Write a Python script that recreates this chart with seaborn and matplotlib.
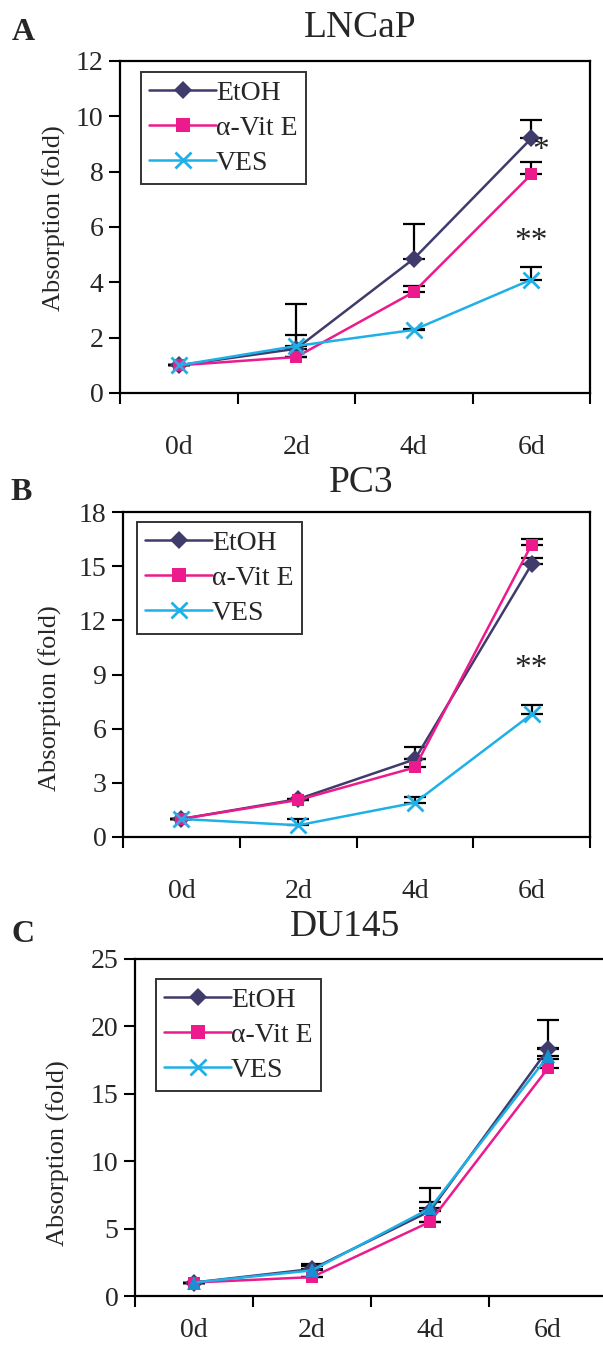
import numpy as np
import pandas as pd
import seaborn as sns
import matplotlib.pyplot as plt
from matplotlib.lines import Line2D
from matplotlib.ticker import FixedLocator, MultipleLocator

days = ["0d", "2d", "4d", "6d"]
treatments = ["EtOH", "α-Vit E", "VES"]

# mean values and upper error bars
lncap_mean = {"EtOH": [1.0, 1.6, 4.85, 9.2],
              "α-Vit E": [1.0, 1.3, 3.65, 7.9],
              "VES": [1.0, 1.7, 2.28, 4.1]}
lncap_err = {"EtOH": [0.0, 1.6, 1.25, 0.65],
             "α-Vit E": [0.0, 0.0, 0.2, 0.45],
             "VES": [0.0, 0.4, 0.02, 0.45]}

pc3_mean = {"EtOH": [1.0, 2.1, 4.3, 15.1],
            "α-Vit E": [1.0, 2.05, 3.85, 16.2],
            "VES": [1.0, 0.65, 1.9, 6.8]}
pc3_err = {"EtOH": [0.0, 0.0, 0.7, 0.35],
           "α-Vit E": [0.0, 0.0, 0.45, 0.3],
           "VES": [0.0, 0.35, 0.3, 0.5]}

du145_mean = {"EtOH": [1.0, 2.0, 6.3, 18.3],
              "α-Vit E": [1.0, 1.4, 5.5, 16.9],
              "VES": [1.0, 1.9, 6.5, 17.8]}
du145_err = {"EtOH": [0.0, 0.35, 1.7, 2.2],
             "α-Vit E": [0.0, 0.0, 0.0, 0.7],
             "VES": [0.0, 0.3, 0.5, 0.6]}

colors = {"EtOH": "#3f3b6b", "α-Vit E": "#ec1a8c", "VES": "#1eb0e6"}
tri_color = "#1a8fd2"

sns.set_theme(style="white")
plt.rcParams["font.family"] = ["Liberation Serif", "DejaVu Serif"]

W, H = 603, 1347
fig = plt.figure(figsize=(W / 100, H / 100), dpi=100)


def fx(px):
    return px / W


def fy(py):
    return 1 - py / H


def panel(rect, mean, err, ymax, ystep, title, letter, title_xy, letter_xy,
          ylab_xy, legend_xy, ves_marker="x", stars=(), xpad=30):
    left, top, right, bottom = rect
    ax = fig.add_axes([fx(left), fy(bottom), fx(right - left), fy(top) - fy(bottom)])

    x = np.arange(len(days))
    for t in treatments:
        e = np.array(err[t])
        ax.errorbar(x, mean[t], yerr=[np.zeros_like(e), e], fmt="none",
                    ecolor="black", elinewidth=1.6, capsize=8, capthick=1.6, zorder=2)

    markers = {"EtOH": "D", "α-Vit E": "s", "VES": ves_marker}
    for t in treatments:
        df = pd.DataFrame({"day": days, "value": mean[t]})
        m = markers[t]
        if m == "x":
            kw = dict(markersize=11, markeredgewidth=2, markeredgecolor=colors[t])
        elif m == "^":
            kw = dict(markersize=10, markeredgewidth=0, markerfacecolor=tri_color,
                      markeredgecolor=tri_color)
        else:
            kw = dict(markersize=9, markeredgewidth=0, markeredgecolor=colors[t])
        sns.lineplot(data=df, x="day", y="value", color=colors[t], marker=m,
                     linewidth=1.8, ax=ax, zorder=3, **kw)

    ax.set_xlim(-0.5, 3.5)
    ax.set_ylim(0, ymax)
    ax.yaxis.set_major_locator(MultipleLocator(ystep))
    ax.xaxis.set_minor_locator(FixedLocator([-0.5, 0.5, 1.5, 2.5, 3.5]))
    ax.tick_params(axis="x", which="major", length=0, pad=xpad, labelsize=20)
    ax.tick_params(axis="x", which="minor", length=8, width=1.5, direction="out",
                   bottom=True, color="black")
    ax.tick_params(axis="y", length=8, width=1.5, direction="out", left=True,
                   labelsize=20, pad=4, color="black")
    ax.set_xlabel("")
    ax.set_ylabel("")
    for s in ax.spines.values():
        s.set_visible(True)
        s.set_color("black")
        s.set_linewidth(1.6)

    for sx, sy, stxt in stars:
        ax.text(sx, sy, stxt, ha="center", va="center", fontsize=24, color="#222222")

    handles = [Line2D([], [], color=colors["EtOH"], marker="D", markersize=9, mew=0, lw=1.8),
               Line2D([], [], color=colors["α-Vit E"], marker="s", markersize=10, mew=0, lw=1.8),
               Line2D([], [], color=colors["VES"], marker="x", markersize=11, mew=2, lw=1.8)]
    leg = ax.legend(handles, treatments, loc="upper left",
                    bbox_to_anchor=(fx(legend_xy[0]), fy(legend_xy[1])),
                    bbox_transform=fig.transFigure, fontsize=20, frameon=True,
                    fancybox=False, framealpha=1, edgecolor="#333333",
                    handlelength=2.4, handletextpad=0.0, labelspacing=0.35,
                    borderpad=0.3, borderaxespad=0)
    leg.get_frame().set_linewidth(1.4)

    fig.text(fx(title_xy[0]), fy(title_xy[1]), title, ha="center", va="center",
             fontsize=27)
    fig.text(fx(letter_xy[0]), fy(letter_xy[1]), letter, ha="center", va="center",
             fontsize=23, fontweight="bold")
    fig.text(fx(ylab_xy[0]), fy(ylab_xy[1]), "Absorption (fold)", ha="center",
             va="center", rotation=90, fontsize=19)
    return ax


panel((120, 61, 590, 393), lncap_mean, lncap_err, 12, 2, "LNCaP", "A",
      (360, 28), (23, 32), (54, 218), (141, 72),
      stars=[(3.08, 8.75, "*"), (3.0, 5.45, "**")])
panel((123, 512, 590, 837), pc3_mean, pc3_err, 18, 3, "PC3", "B",
      (361, 483), (21, 493), (50, 698), (137, 522),
      stars=[(3.0, 9.3, "**")])
panel((135, 959, 607, 1296), du145_mean, du145_err, 25, 5, "DU145", "C",
      (345, 927), (23, 935), (58, 1153), (156, 979), ves_marker="^", xpad=16)

fig.savefig("out.png", dpi=100)
